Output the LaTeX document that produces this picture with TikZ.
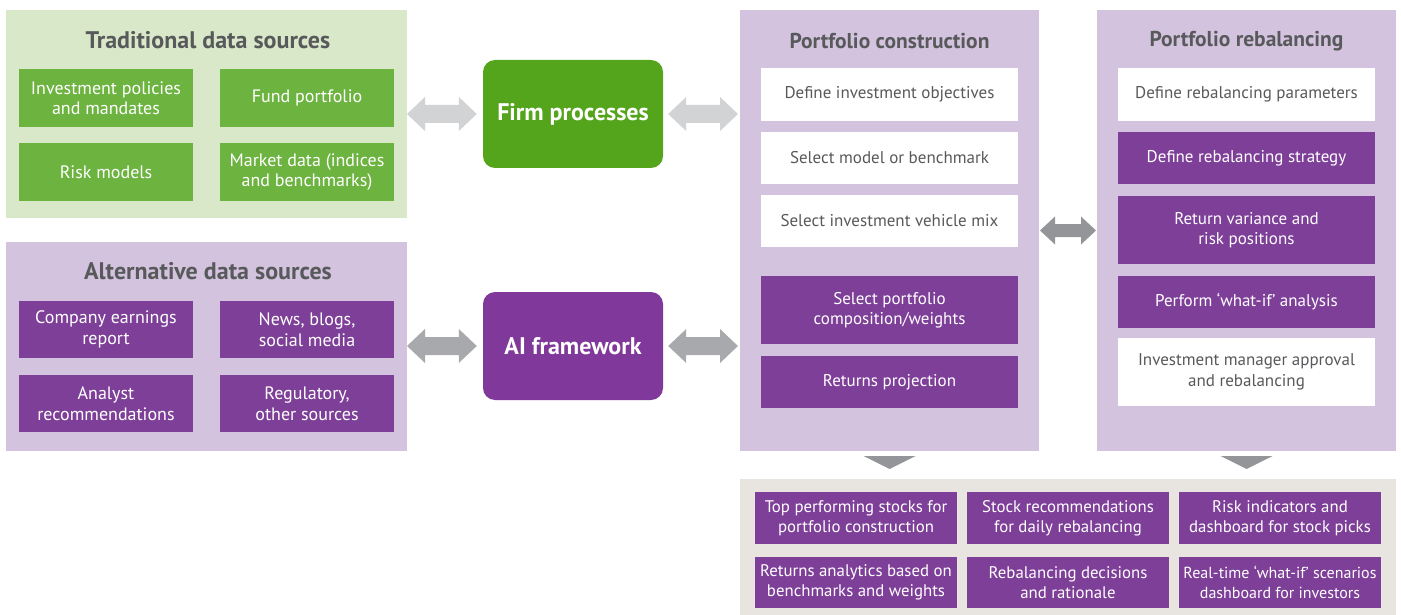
\documentclass[tikz,border=0pt]{standalone}
\usepackage{fontspec}
\setmainfont{PT Sans}
\usetikzlibrary{calc}

\definecolor{panelgreen}{HTML}{D9E8C9}
\definecolor{boxgreen}{HTML}{6CB33F}
\definecolor{firmgreen}{HTML}{55A51C}
\definecolor{panelpurple}{HTML}{D4C3DF}
\definecolor{boxpurple}{HTML}{7E3F98}
\definecolor{aipurple}{HTML}{80389A}
\definecolor{panelbeige}{HTML}{E8E4E0}
\definecolor{textgray}{HTML}{58595B}
\definecolor{arrowlight}{HTML}{D1D3D4}
\definecolor{arrowmid}{HTML}{A7A9AC}
\definecolor{arrowdark}{HTML}{939598}

% double-headed block arrow: style, start, end, shaft half-height, head half-height, head length
\newcommand\blockarrow[6]{%
  \fill[#1] (#2) -- ($(#2)+(#6,-#5)$) -- ($(#2)+(#6,-#4)$) -- ($(#3)+(-#6,-#4)$)
    -- ($(#3)+(-#6,-#5)$) -- (#3) -- ($(#3)+(-#6,#5)$) -- ($(#3)+(-#6,#4)$)
    -- ($(#2)+(#6,#4)$) -- ($(#2)+(#6,#5)$) -- cycle;}

\begin{document}
\begin{tikzpicture}[x=1pt,y=-1pt,
  panel/.style={fill=#1, inner sep=0pt, outer sep=0pt},
  paneltitle/.style={text=textgray, font=\bfseries\fontsize{24}{26}\selectfont, inner sep=0pt},
  steptitle/.style={text=textgray, font=\bfseries\fontsize{21.5}{24}\selectfont, inner sep=0pt},
  srcbox/.style={fill=#1, text=white, minimum width=174pt, minimum height=57pt,
    inner sep=0pt, align=center, font=\fontsize{18}{20.5}\selectfont},
  hub/.style={fill=#1, rounded corners=12pt, minimum width=180pt, minimum height=108pt,
    inner sep=0pt, text=white, font=\bfseries\fontsize{24}{26}\selectfont},
  stepbox/.style={fill=white, text=textgray, minimum width=257pt, minimum height=52pt,
    inner sep=0pt, align=center, font=\fontsize{17}{20.5}\selectfont},
  actbox/.style={stepbox, fill=boxpurple, text=white},
  outbox/.style={fill=boxpurple, text=white, minimum width=202pt, minimum height=52pt,
    inner sep=0pt, align=center, font=\fontsize{16.8}{20}\selectfont},
]
\useasboundingbox (0,0) rectangle (1401,615);

% data source panels
\node[panel=panelgreen, minimum width=401pt, minimum height=208pt] (trad) at (206.5,114) {};
\node[paneltitle] (tradtitle) at (208,40) {Traditional data sources};
\node[srcbox=boxgreen, minimum height=58pt] (t1) at (106,98) {Investment policies\\and mandates};
\node[srcbox=boxgreen, minimum height=58pt] (t2) at (307,98) {Fund portfolio};
\node[srcbox=boxgreen, minimum height=58pt] (t3) at (106,172) {Risk models};
\node[srcbox=boxgreen, minimum height=58pt] (t4) at (307,172) {Market data (indices\\and benchmarks)};

\node[panel=panelpurple, minimum width=401pt, minimum height=209pt] (alt) at (206.5,346.5) {};
\node[paneltitle] (alttitle) at (208,271) {Alternative data sources};
\node[srcbox=boxpurple] (a1) at (106,329.5) {Company earnings\\report};
\node[srcbox=boxpurple] (a2) at (307,329.5) {News, blogs,\\social media};
\node[srcbox=boxpurple] (a3) at (106,403.5) {Analyst\\recommendations};
\node[srcbox=boxpurple] (a4) at (307,403.5) {Regulatory,\\other sources};

% hubs
\node[hub=firmgreen] (firm) at (573,114) {Firm processes};
\node[hub=aipurple] (ai) at (573,346) {AI framework};

% portfolio construction
\node[panel=panelpurple, minimum width=299pt, minimum height=441pt] (cons) at (889.5,230.5) {};
\node[steptitle] (constitle) at (889.5,41) {Portfolio construction};
\node[stepbox, minimum height=53pt] (c1) at (889.5,94.5) {Define investment objectives};
\node[stepbox] (c2) at (889.5,158) {Select model or benchmark};
\node[stepbox] (c3) at (889.5,221) {Select investment vehicle mix};
\node[actbox, minimum height=68pt] (c4) at (889.5,310) {Select portfolio\\composition/weights};
\node[actbox] (c5) at (889.5,382) {Returns projection};

% portfolio rebalancing
\node[panel=panelpurple, minimum width=299pt, minimum height=441pt] (reb) at (1246.5,230.5) {};
\node[steptitle] (rebtitle) at (1246.5,41) {Portfolio rebalancing};
\node[stepbox, minimum height=53pt] (r1) at (1246.5,94.5) {Define rebalancing parameters};
\node[actbox] (r2) at (1246.5,158) {Define rebalancing strategy};
\node[actbox, minimum height=68pt] (r3) at (1246.5,230) {Return variance and\\risk positions};
\node[actbox] (r4) at (1246.5,302) {Perform ‘what-if’ analysis};
\node[stepbox, minimum height=68pt] (r5) at (1246.5,372) {Investment manager approval\\and rebalancing};

% outputs
\node[panel=panelbeige, minimum width=656pt, minimum height=136pt] (out) at (1068,547) {};
\node[outbox] (o1) at (856,518) {Top performing stocks for\\portfolio construction};
\node[outbox] (o2) at (1068,518) {Stock recommendations\\for daily rebalancing};
\node[outbox] (o3) at (1280,518) {Risk indicators and\\dashboard for stock picks};
\node[outbox, minimum height=51pt] (o4) at (856,582.5) {Returns analytics based on\\benchmarks and weights};
\node[outbox, minimum height=51pt] (o5) at (1068,582.5) {Rebalancing decisions\\and rationale};
\node[outbox, minimum height=51pt, font=\fontsize{16}{20}\selectfont] (o6) at (1280,582.5) {Real-time ‘what-if’ scenarios\\dashboard for investors};

% connectors
\coordinate (f1s) at (trad.east);
\coordinate (f1e) at ([xshift=-6pt]firm.west);
\coordinate (f2s) at ([xshift=5pt]firm.east);
\coordinate (f2e) at ([xshift=-2pt]firm.east -| cons.west);
\blockarrow{arrowlight}{f1s}{f1e}{9}{17}{18}
\blockarrow{arrowlight}{f2s}{f2e}{9}{17}{18}

\coordinate (i1s) at (alt.east |- ai.west);
\coordinate (i1e) at ([xshift=-6pt]ai.west);
\coordinate (i2s) at ([xshift=5pt]ai.east);
\coordinate (i2e) at ([xshift=-2pt]ai.east -| cons.west);
\blockarrow{arrowmid}{i1s}{i1e}{9}{17}{18}
\blockarrow{arrowmid}{i2s}{i2e}{9}{17}{18}

\coordinate (m1s) at ([xshift=1pt]cons.east);
\coordinate (m1e) at ([xshift=-1pt]reb.west);
\blockarrow{arrowdark}{m1s}{m1e}{6.5}{14}{15}

\fill[arrowdark] ($(cons.south)+(-26,5)$) -- ($(cons.south)+(26,5)$) -- ($(cons.south)+(0,18)$) -- cycle;
\fill[arrowdark] ($(reb.south)+(-26,5)$) -- ($(reb.south)+(26,5)$) -- ($(reb.south)+(0,18)$) -- cycle;
\end{tikzpicture}
\end{document}
